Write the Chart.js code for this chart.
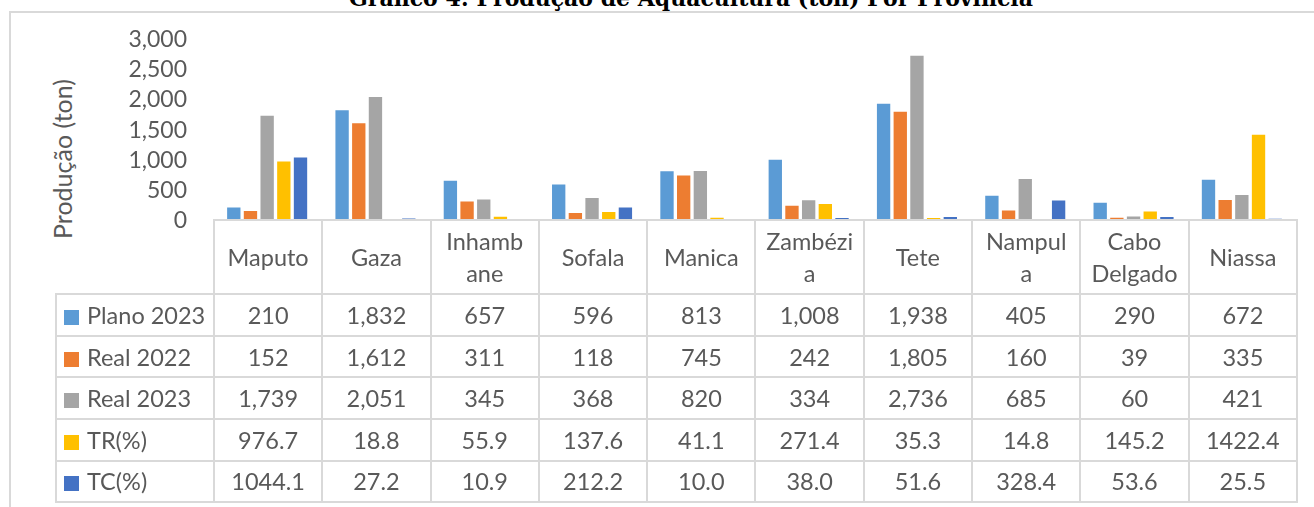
<!DOCTYPE html>
<html>
<head>
<meta charset="utf-8">
<script src="https://cdn.jsdelivr.net/npm/chart.js@4.4.1/dist/chart.umd.min.js"></script>
<style>
body { margin: 0; background: #fff; }
#wrap { position: relative; width: 1314px; height: 507px; overflow: hidden; font-family: Lato, sans-serif; color: #595959; }
#frame { position: absolute; left: 9px; top: 11px; width: 1400px; height: 600px; border-left: 2px solid #d9d9d9; border-top: 2px solid #d9d9d9; }
#title { position: absolute; left: 0; width: 1382px; top: -15px; text-align: center; font-family: "DejaVu Serif", serif; font-weight: bold; font-size: 22px; line-height: 26px; color: #000; white-space: nowrap; }
#ytitle { position: absolute; left: 62px; top: 159px; transform: translate(-50%, -50%) rotate(-90deg); font-size: 25px; white-space: nowrap; }
#c { position: absolute; left: 0; top: 0; }
#tbl { position: absolute; border-collapse: collapse; table-layout: fixed; font-size: 23.5px; color: #595959; }
#tbl td { border: 2px solid #d9d9d9; text-align: center; padding: 0; white-space: nowrap; }
#tbl td.blank { border: none; }
#tbl td.name { text-align: left; padding-left: 7px; }
#tbl .sw { display: inline-block; width: 15px; height: 15px; margin-right: 8px; vertical-align: -1px; }
#tbl tr.head td { line-height: 32px; }
</style>
</head>
<body>
<div id="wrap">
  <div id="frame"></div>
  <div id="title">Gráfico 4: Produção de Aquacultura (ton) Por Província</div>
  <div id="ytitle">Produção (ton)</div>
  <canvas id="c" width="1314" height="260"></canvas>
  <table id="tbl"></table>
</div>
<script>
// categorias (com a quebra de linha usada na tabela)
const provincias = [['Maputo'], ['Gaza'], ['Inhamb', 'ane'], ['Sofala'], ['Manica'], ['Zambézi', 'a'], ['Tete'], ['Nampul', 'a'], ['Cabo', 'Delgado'], ['Niassa']];

const plano2023 = [210, 1832, 657, 596, 813, 1008, 1938, 405, 290, 672];
const real2022 = [152, 1612, 311, 118, 745, 242, 1805, 160, 39, 335];
const real2023 = [1739, 2051, 345, 368, 820, 334, 2736, 685, 60, 421];
const trPct = [976.7, 18.8, 55.9, 137.6, 41.1, 271.4, 35.3, 14.8, 145.2, 1422.4];
const tcPct = [1044.1, 27.2, 10.9, 212.2, 10.0, 38.0, 51.6, 328.4, 53.6, 25.5];

const yTicks = [0, 500, 1000, 1500, 2000, 2500, 3000];

const series = [
    { label: 'Plano 2023', data: plano2023, color: '#5B9BD5', dec: 0 },
    { label: 'Real 2022', data: real2022, color: '#ED7D31', dec: 0 },
    { label: 'Real 2023', data: real2023, color: '#A5A5A5', dec: 0 },
    { label: 'TR(%)', data: trPct, color: '#FFC000', dec: 1 },
    { label: 'TC(%)', data: tcPct, color: '#4472C4', dec: 1 }
];

function fmt(v, dec) {
    if (dec === 0) return v.toLocaleString('en-US');
    return v.toFixed(dec); // sem separador de milhares, como na tabela original
}

const chart = new Chart(document.getElementById('c').getContext('2d'), {
    type: 'bar',
    data: {
        labels: provincias.map(p => p.join(' ')),
        datasets: series.map(s => ({
            label: s.label,
            data: s.data,
            backgroundColor: s.color,
            borderWidth: 0,
            categoryPercentage: 0.77,
            barPercentage: 0.8
        }))
    },
    options: {
        responsive: false,
        animation: false,
        layout: { padding: { top: 40, bottom: 0, left: 0, right: 18 } },
        plugins: { legend: { display: false }, tooltip: { enabled: false } },
        scales: {
            x: { display: false },
            y: {
                min: 0,
                max: 3000,
                afterBuildTicks: scale => { scale.ticks = yTicks.map(v => ({ value: v })); },
                afterFit: scale => { scale.width = 213; },
                ticks: {
                    autoSkip: false,
                    padding: 26,
                    color: '#595959',
                    font: { family: 'Lato', size: 23 },
                    callback: v => v.toLocaleString('en-US')
                },
                grid: { display: false, drawTicks: false },
                border: { display: false }
            }
        }
    }
});

// --- tabela de dados, alinhada com as categorias do eixo x ---
function buildTable() {
    const area = chart.chartArea;
    const colW = (area.right - area.left) / provincias.length;
    const nameW = 158;
    const tbl = document.getElementById('tbl');
    tbl.style.left = (area.left - nameW) + 'px';
    tbl.style.top = (area.bottom - 1) + 'px';
    tbl.style.width = (nameW + colW * provincias.length) + 'px';

    let html = '<colgroup><col style="width:' + nameW + 'px">';
    provincias.forEach(() => { html += '<col style="width:' + colW + 'px">'; });
    html += '</colgroup>';

    html += '<tr class="head" style="height:74px"><td class="blank"></td>';
    provincias.forEach(p => { html += '<td>' + p.join('<br>') + '</td>'; });
    html += '</tr>';

    series.forEach(s => {
        html += '<tr style="height:41.6px"><td class="name"><span class="sw" style="background:' + s.color + '"></span>' + s.label + '</td>';
        s.data.forEach(v => { html += '<td>' + fmt(v, s.dec) + '</td>'; });
        html += '</tr>';
    });
    tbl.innerHTML = html;
}
buildTable();
</script>
</body>
</html>
